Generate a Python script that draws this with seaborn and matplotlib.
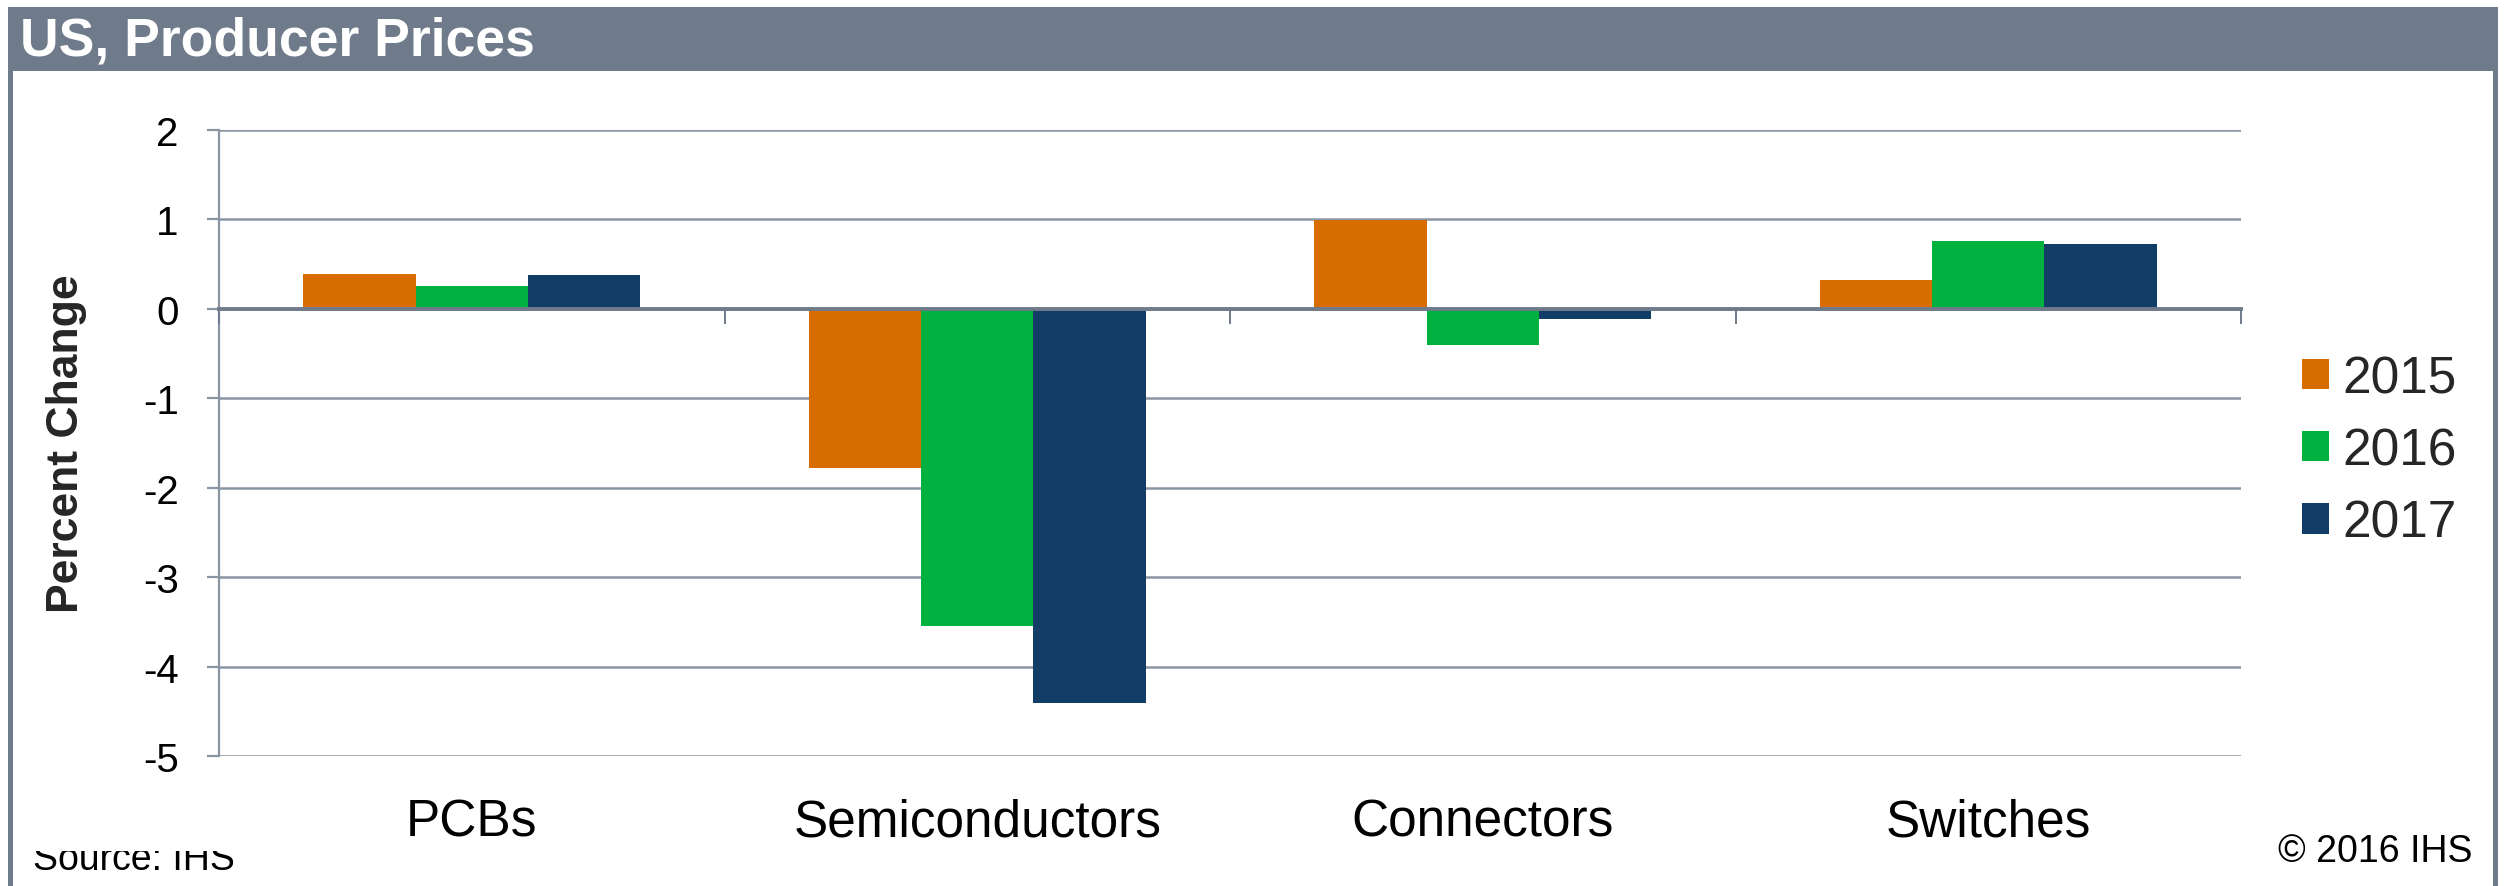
import matplotlib
matplotlib.use("Agg")
import matplotlib.pyplot as plt
from matplotlib.patches import Rectangle
import numpy as np
import pandas as pd
import seaborn as sns

# Producer price change by component group, percent
categories = ["PCBs", "Semiconductors", "Connectors", "Switches"]
years = ["2015", "2016", "2017"]
v2015 = [0.39, -1.78, 0.99, 0.32]
v2016 = [0.26, -3.55, -0.40, 0.76]
v2017 = [0.38, -4.41, -0.11, 0.72]
y_ticks = [-5, -4, -3, -2, -1, 0, 1, 2]

colors = ["#D76C00", "#00B140", "#123D66"]
frame_gray = "#6F7B8A"
grid_gray = "#8A95A3"

sns.set_style("white")
plt.rcParams["font.family"] = ["Liberation Sans", "DejaVu Sans"]
plt.rcParams["axes.unicode_minus"] = False

df = pd.DataFrame({
    "category": categories * 3,
    "year": [y for y in years for _ in categories],
    "value": v2015 + v2016 + v2017,
})

W, H, DPI = 2510, 887, 100
fig = plt.figure(figsize=(W / DPI, H / DPI), dpi=DPI)
fig.patch.set_facecolor("white")

# plot area in figure pixels
left, right, top, bottom = 219, 2241, 131, 757
ax = fig.add_axes([left / W, 1 - bottom / H, (right - left) / W, (bottom - top) / H])

sns.barplot(data=df, x="category", y="value", hue="year", palette=colors,
            width=0.666, saturation=1, linewidth=0, ax=ax, legend=True)

ax.set_ylim(-5, 2)
ax.set_xlim(-0.5, len(categories) - 0.5)
ax.set_yticks(y_ticks)
ax.set_yticklabels([str(t) for t in y_ticks])
ax.set_axisbelow(True)
ax.yaxis.grid(True, color=grid_gray, linewidth=1.8)
ax.xaxis.grid(False)

for s in ["top", "right", "bottom"]:
    ax.spines[s].set_visible(False)
ax.spines["left"].set_color(grid_gray)
ax.spines["left"].set_linewidth(1.6)

ax.tick_params(axis="y", which="major", direction="out", length=9, width=1.6,
               color=grid_gray, pad=20, labelsize=29, labelcolor="black", left=True)
ax.tick_params(axis="x", which="major", length=0, pad=30, labelsize=37, labelcolor="black")
ax.set_xlabel("")
ax.set_ylabel("Percent Change", fontsize=32, fontweight="bold", labelpad=40)

# zero baseline with category separators
ax2 = ax.twiny()
ax2.set_xlim(ax.get_xlim())
ax2.patch.set_visible(False)
for s in ["top", "right", "left"]:
    ax2.spines[s].set_visible(False)
ax2.spines["bottom"].set_visible(True)
ax2.spines["bottom"].set_position(("data", 0))
ax2.spines["bottom"].set_color(frame_gray)
ax2.spines["bottom"].set_linewidth(2.8)
ax2.xaxis.set_ticks_position("bottom")
ax2.set_xticks(np.arange(-0.5, len(categories), 1.0))
ax2.set_xticklabels([])
ax2.tick_params(axis="x", direction="out", length=11, width=1.4, color=frame_gray)
ax2.set_zorder(ax.get_zorder() + 1)

# legend to the right of the plot
handles, labels = ax.get_legend_handles_labels()
ax.get_legend().remove()
fig.legend(handles, labels, loc="center left", bbox_to_anchor=(2302 / W, 1 - 452 / H),
           bbox_transform=fig.transFigure, frameon=False, fontsize=37,
           handlelength=0.53, handleheight=0.53, handletextpad=0.25,
           labelspacing=0.45, borderpad=0, borderaxespad=0)

# header bar and side rules
fig.patches.append(Rectangle((8 / W, 1 - 72 / H), (2498 - 8) / W, 64 / H,
                             transform=fig.transFigure, facecolor=frame_gray,
                             edgecolor="none", zorder=0))
fig.patches.append(Rectangle((8 / W, 0), 5 / W, 1 - 8 / H, transform=fig.transFigure,
                             facecolor=frame_gray, edgecolor="none"))
fig.patches.append(Rectangle((2493 / W, 0), 5 / W, 1 - 8 / H, transform=fig.transFigure,
                             facecolor=frame_gray, edgecolor="none"))
fig.text(20 / W, 1 - 42 / H, "US, Producer Prices", color="white", fontsize=38.5,
         fontweight="bold", ha="left", va="center")

# footer notes
src = fig.text(33 / W, 1 - 870 / H, "Source: IHS", fontsize=27, ha="left",
               va="baseline", color="black")
src.set_clip_path(Rectangle((0, 0), 1, (887 - 852) / H, transform=fig.transFigure))
src.set_clip_on(True)
fig.text(2472 / W, 1 - 862 / H, "\u00a9 2016 IHS", fontsize=27, ha="right",
         va="baseline", color="black")

fig.savefig("out.png", dpi=DPI)
